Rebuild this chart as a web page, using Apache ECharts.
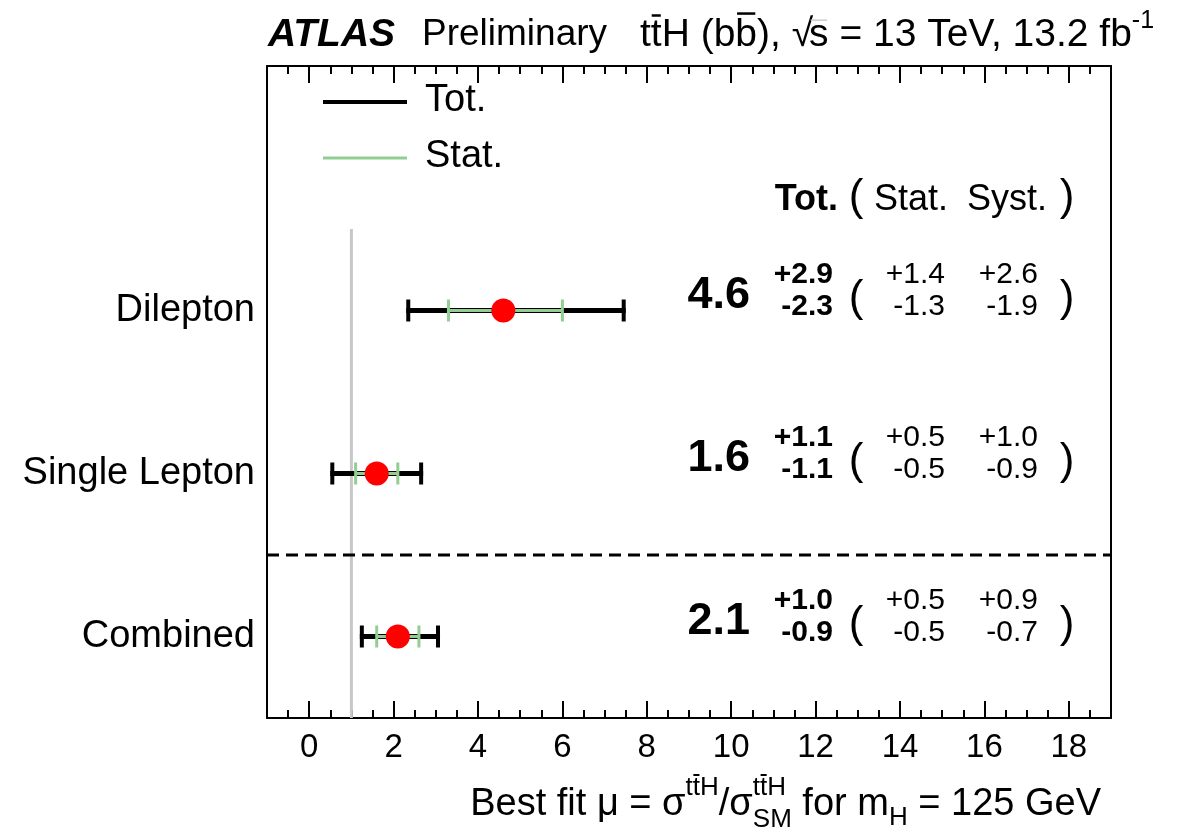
<!DOCTYPE html>
<html>
<head>
<meta charset="utf-8">
<script src="https://cdn.jsdelivr.net/npm/echarts@6/dist/echarts.min.js"></script>
<style>
html, body { margin: 0; padding: 0; background: #fff; }
#chart { width: 1179px; height: 834px; }
</style>
</head>
<body>
<div id="chart"></div>
<script>
// Fit results per channel (row 1 = bottom)
const categories = ['Combined', 'Single Lepton', 'Dilepton'];
const rowPos = [1, 2, 3];
const mu = [2.1, 1.6, 4.6];
const totUp = [1.0, 1.1, 2.9];
const totDown = [0.9, 1.1, 2.3];
const statUp = [0.5, 0.5, 1.4];
const statDown = [0.5, 0.5, 1.3];
const systUp = [0.9, 1.0, 2.6];
const systDown = [0.7, 0.9, 1.9];
const xTickLabels = [0, 2, 4, 6, 8, 10, 12, 14, 16, 18];
const smValue = 1;
const smExtent = [0.5, 3.5];
const separatorPos = 1.5;

const FONT = '"Liberation Sans", Arial, Helvetica, sans-serif';
const GREEN = '#92cd92';
const X_MIN = -1, X_MAX = 19;

const chart = echarts.init(document.getElementById('chart'), null, { renderer: 'canvas' });

// measure helper for chained text pieces
const mctx = document.createElement('canvas').getContext('2d');
function textWidth(text, font) { mctx.font = font; return mctx.measureText(text).width; }
const fontOf = (size, weight, style) => `${style || 'normal'} ${weight || 'normal'} ${size}px ${FONT}`;

// lay out text pieces left to right; each piece: {t, size, weight, style, dy, over}
function chain(pieces, x0, y0) {
  const out = [];
  let x = x0;
  pieces.forEach(p => {
    const font = fontOf(p.size, p.weight, p.style);
    const w = textWidth(p.t, font);
    const yy = y0 + (p.dy || 0);
    out.push({
      type: 'text', x: x, y: yy, silent: true,
      style: { text: p.t, font: font, fill: '#000', align: 'left', verticalAlign: 'middle' }
    });
    if (p.over) {
      out.push({
        type: 'line', silent: true,
        shape: { x1: x + w * 0.08, y1: yy - p.size * p.over, x2: x + w * 0.92, y2: yy - p.size * p.over },
        style: { stroke: p.overColor || '#000', lineWidth: p.overWidth || 2.5 }
      });
    }
    x += w + (p.gap || 0);
  });
  return out;
}

// ----- title -----
const TS = 39;
const title1 = chain([{ t: 'ATLAS', size: 39, weight: 'bold', style: 'italic' }], 268, 35);
const title2 = chain([{ t: 'Preliminary', size: 37 }], 422, 35);
const title3 = chain([
  { t: 't', size: TS },
  { t: 't', size: TS, over: 0.5 },
  { t: 'H (b', size: TS },
  { t: 'b', size: TS, over: 0.55 },
  { t: '), ', size: TS },
  { t: '\u221A', size: TS, gap: -4 },
  { t: 's', size: TS, over: 0.38, overColor: '#cccccc', overWidth: 1.5 },
  { t: ' = 13 TeV, 13.2 fb', size: TS },
  { t: '-1', size: 25, dy: -14 }
], 640, 35);

// ----- x axis title (right aligned, stacked super/subscripts) -----
function buildAxisTitle(rightX, y) {
  const mainSize = 38, supSize = 26;
  const F = (s) => fontOf(s);
  const w = (t, s) => textWidth(t, F(s));
  const supW = w('ttH', supSize);
  const total = w('Best fit \u03BC = \u03C3', mainSize) + supW + w('/\u03C3', mainSize)
    + Math.max(supW, w('SM', supSize)) + w(' for m', mainSize) + w('H', supSize) + w(' = 125 GeV', mainSize);
  let x = rightX - total;
  const els = [];
  const put = (t, s, dx, dy, over) => {
    els.push({ type: 'text', x: dx, y: y + dy, silent: true,
      style: { text: t, font: F(s), fill: '#000', align: 'left', verticalAlign: 'middle' } });
    if (over) {
      const ww = w(t, s);
      els.push({ type: 'line', silent: true,
        shape: { x1: dx + ww * 0.08, y1: y + dy - s * 0.5, x2: dx + ww * 0.92, y2: y + dy - s * 0.5 },
        style: { stroke: '#000', lineWidth: 2 } });
    }
  };
  const supTTH = (x0) => {
    put('t', supSize, x0, -17);
    put('t', supSize, x0 + w('t', supSize), -17, true);
    put('H', supSize, x0 + w('tt', supSize), -17);
  };
  put('Best fit \u03BC = \u03C3', mainSize, x, 0); x += w('Best fit \u03BC = \u03C3', mainSize);
  supTTH(x); x += supW;
  put('/\u03C3', mainSize, x, 0); x += w('/\u03C3', mainSize);
  supTTH(x); put('SM', supSize, x, 15); x += Math.max(supW, w('SM', supSize));
  put(' for m', mainSize, x, 0); x += w(' for m', mainSize);
  put('H', supSize, x, 13); x += w('H', supSize);
  put(' = 125 GeV', mainSize, x, 0);
  return els;
}
const axisTitle = buildAxisTitle(1101, 805);

// ----- legend -----
const LS = 38;
const legendEls = [
  { type: 'line', silent: true, shape: { x1: 323, y1: 102, x2: 407, y2: 102 }, style: { stroke: '#000', lineWidth: 4 } },
  { type: 'text', silent: true, x: 425, y: 101, style: { text: 'Tot.', font: fontOf(LS), fill: '#000', verticalAlign: 'middle' } },
  { type: 'line', silent: true, shape: { x1: 323, y1: 158, x2: 407, y2: 158 }, style: { stroke: GREEN, lineWidth: 3 } },
  { type: 'text', silent: true, x: 425, y: 157, style: { text: 'Stat.', font: fontOf(LS), fill: '#000', verticalAlign: 'middle' } }
];

// ----- table header -----
const headerY = 200;
const HS = 36;
const headerEls = [
  { type: 'text', silent: true, x: 838, y: headerY, style: { text: 'Tot.', font: fontOf(HS, 'bold'), fill: '#000', align: 'right', verticalAlign: 'middle' } },
  { type: 'text', silent: true, x: 856, y: headerY - 2, style: { text: '(', font: fontOf(44), fill: '#000', align: 'center', verticalAlign: 'middle' } },
  { type: 'text', silent: true, x: 911, y: headerY, style: { text: 'Stat.', font: fontOf(HS), fill: '#000', align: 'center', verticalAlign: 'middle' } },
  { type: 'text', silent: true, x: 1007, y: headerY, style: { text: 'Syst.', font: fontOf(HS), fill: '#000', align: 'center', verticalAlign: 'middle' } },
  { type: 'text', silent: true, x: 1067, y: headerY - 2, style: { text: ')', font: fontOf(44), fill: '#000', align: 'center', verticalAlign: 'middle' } }
];

// ----- series data -----
const barData = rowPos.map((r, i) => [mu[i], r, totDown[i], totUp[i], statDown[i], statUp[i]]);
const dotData = rowPos.map((r, i) => [mu[i], r]);
const tableData = rowPos.map((r, i) => [mu[i], r, totUp[i], totDown[i], statUp[i], statDown[i], systUp[i], systDown[i]]);

function renderBars(params, api) {
  const m = api.value(0), y = api.value(1);
  const lo = api.coord([m - api.value(2), y]);
  const hi = api.coord([m + api.value(3), y]);
  const slo = api.coord([m - api.value(4), y]);
  const shi = api.coord([m + api.value(5), y]);
  const capH = 11, sCapH = 11;
  const ln = (x1, y1, x2, y2, stroke, lw) => ({ type: 'line', shape: { x1, y1, x2, y2 }, style: { stroke, lineWidth: lw } });
  return {
    type: 'group',
    children: [
      ln(lo[0], lo[1], hi[0], hi[1], '#000', 5),
      ln(lo[0] + 2, lo[1] - capH, lo[0] + 2, lo[1] + capH, '#000', 4),
      ln(hi[0] - 2, hi[1] - capH, hi[0] - 2, hi[1] + capH, '#000', 4),
      ln(slo[0], slo[1], shi[0], shi[1], GREEN, 3),
      ln(slo[0], slo[1] - sCapH, slo[0], slo[1] + sCapH, GREEN, 3),
      ln(shi[0], shi[1] - sCapH, shi[0], shi[1] + sCapH, GREEN, 3)
    ]
  };
}

function renderTable(params, api) {
  const yc = api.coord([0, api.value(1)])[1];
  const x0 = params.coordSys.x;
  const f = (v) => v.toFixed(1);
  const t = (text, x, y, size, bold, align) => ({
    type: 'text', x: x0 + x, y: yc + y,
    style: { text, fill: '#000', font: fontOf(size, bold ? 'bold' : 'normal'), align, verticalAlign: 'middle' }
  });
  return {
    type: 'group',
    children: [
      t(f(api.value(0)), 483, -15, 45, true, 'right'),
      t('+' + f(api.value(2)), 566, -36, 30, true, 'right'),
      t('-' + f(api.value(3)), 566, -4, 30, true, 'right'),
      t('(', 589, -12, 44, false, 'center'),
      t('+' + f(api.value(4)), 678, -36, 30, false, 'right'),
      t('-' + f(api.value(5)), 678, -4, 30, false, 'right'),
      t('+' + f(api.value(6)), 771, -36, 30, false, 'right'),
      t('-' + f(api.value(7)), 771, -4, 30, false, 'right'),
      t(')', 800, -12, 44, false, 'center')
    ]
  };
}

const axisLineStyle = { color: '#000', width: 2 };
const tickStyle = { color: '#000', width: 2 };

chart.setOption({
  animation: false,
  backgroundColor: '#fff',
  grid: { left: 267, top: 66, right: 1179 - 1111, bottom: 834 - 718, containLabel: false },
  xAxis: [
    {
      type: 'value', min: X_MIN, max: X_MAX, interval: 0.5, position: 'bottom',
      axisLine: { show: true, onZero: false, lineStyle: axisLineStyle },
      axisTick: { show: true, inside: true, length: 8, lineStyle: tickStyle },
      axisLabel: { customValues: xTickLabels, formatter: (v) => String(v), color: '#000', fontSize: 33, fontFamily: FONT, margin: 13 },
      splitLine: { show: false }
    },
    {
      type: 'value', min: X_MIN, max: X_MAX, position: 'bottom',
      axisLine: { show: false, onZero: false },
      axisTick: { show: true, inside: true, length: 17, customValues: xTickLabels, lineStyle: tickStyle },
      axisLabel: { show: false }, splitLine: { show: false }
    },
    {
      type: 'value', min: X_MIN, max: X_MAX, interval: 0.5, position: 'top',
      axisLine: { show: true, onZero: false, lineStyle: axisLineStyle },
      axisTick: { show: true, inside: true, length: 8, lineStyle: tickStyle },
      axisLabel: { show: false }, splitLine: { show: false }
    },
    {
      type: 'value', min: X_MIN, max: X_MAX, position: 'top',
      axisLine: { show: false, onZero: false },
      axisTick: { show: true, inside: true, length: 17, customValues: xTickLabels, lineStyle: tickStyle },
      axisLabel: { show: false }, splitLine: { show: false }
    }
  ],
  yAxis: [
    {
      type: 'value', min: 0.5, max: 4.5, position: 'left',
      axisLine: { show: true, onZero: false, lineStyle: axisLineStyle },
      axisTick: { show: false },
      axisLabel: {
        customValues: rowPos, formatter: (v) => categories[rowPos.indexOf(v)] || '',
        color: '#000', fontSize: 38, fontFamily: FONT, margin: 12
      },
      splitLine: { show: false }
    },
    {
      type: 'value', min: 0.5, max: 4.5, position: 'right',
      axisLine: { show: true, onZero: false, lineStyle: axisLineStyle },
      axisTick: { show: false }, axisLabel: { show: false }, splitLine: { show: false }
    }
  ],
  series: [
    {
      // SM expectation
      type: 'line', xAxisIndex: 0, yAxisIndex: 0, z: 1,
      data: smExtent.map(y => [smValue, y]),
      symbol: 'none', lineStyle: { color: '#c8c8c8', width: 3 }
    },
    {
      // separator between channels and combination
      type: 'line', xAxisIndex: 0, yAxisIndex: 0, z: 2,
      data: [[X_MIN, separatorPos], [X_MAX, separatorPos]],
      symbol: 'none', lineStyle: { color: '#000', width: 3, type: [12, 7] }
    },
    {
      type: 'custom', xAxisIndex: 0, yAxisIndex: 0, z: 3,
      renderItem: renderBars, data: barData, encode: { x: 0, y: 1 }
    },
    {
      type: 'scatter', xAxisIndex: 0, yAxisIndex: 0, z: 4,
      data: dotData, symbol: 'circle', symbolSize: 24,
      itemStyle: { color: '#ff0000', opacity: 1 }
    },
    {
      type: 'custom', xAxisIndex: 0, yAxisIndex: 0, z: 5,
      renderItem: renderTable, data: tableData, encode: { x: 0, y: 1 }
    }
  ],
  graphic: [].concat(title1, title2, title3, axisTitle, legendEls, headerEls)
});
</script>
</body>
</html>
